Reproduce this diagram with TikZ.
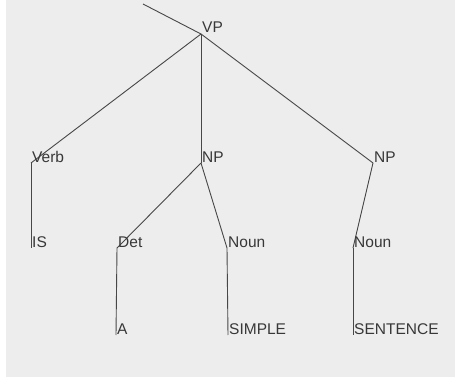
\documentclass[tikz,border=0pt]{standalone}
\usepackage{fontspec}
\setmainfont{Liberation Sans}
\begin{document}
\begin{tikzpicture}[x=1pt,y=-1pt,
  edge/.style={draw=black!72,line width=0.9pt},
  lbl/.style={anchor=base west,inner sep=0pt,xshift=1pt,yshift=1pt,
    text=black!78,font=\fontsize{15.5}{18}\selectfont},
  jn/.style={inner sep=0pt,minimum size=0pt}]
% canvas: white strip on the left, light grey panel
\fill[white] (0,0) rectangle (455,377);
\fill[black!7] (6,0) rectangle (455,377);
\useasboundingbox (0,0) rectangle (455,377);

% junction points (bottom-left of each label)
\coordinate (top) at (143,4);
\coordinate (vp) at (201,34);
\coordinate (verb) at (31,163);
\coordinate (np1) at (201,163);
\coordinate (np2) at (373,163);
\coordinate (is) at (31,248);
\coordinate (det) at (117,248);
\coordinate (noun1) at (227,248);
\coordinate (noun2) at (353,248);
\coordinate (a) at (116,335);
\coordinate (simple) at (228,335);
\coordinate (sentence) at (353,335);

% branches
\draw[edge] (top) -- (vp);
\draw[edge] (vp) -- (verb);
\draw[edge] (vp) -- (np1);
\draw[edge] (vp) -- (np2);
\draw[edge] (verb) -- (is);
\draw[edge] (np1) -- (det);
\draw[edge] (np1) -- (noun1);
\draw[edge] (np2) -- (noun2);
\draw[edge] (det) -- (a);
\draw[edge] (noun1) -- (simple);
\draw[edge] (noun2) -- (sentence);

% labels
\node[lbl] (tvp) at (vp) {VP};
\node[lbl] (tverb) at (verb) {Verb};
\node[lbl] (tnp1) at (np1) {NP};
\node[lbl] (tnp2) at (np2) {NP};
\node[lbl] (tis) at (is) {IS};
\node[lbl] (tdet) at (det) {Det};
\node[lbl] (tnoun1) at (noun1) {Noun};
\node[lbl] (tnoun2) at (noun2) {Noun};
\node[lbl] (ta) at (a) {A};
\node[lbl] (tsimple) at (simple) {SIMPLE};
\node[lbl] (tsentence) at (sentence) {SENTENCE};
\end{tikzpicture}
\end{document}
